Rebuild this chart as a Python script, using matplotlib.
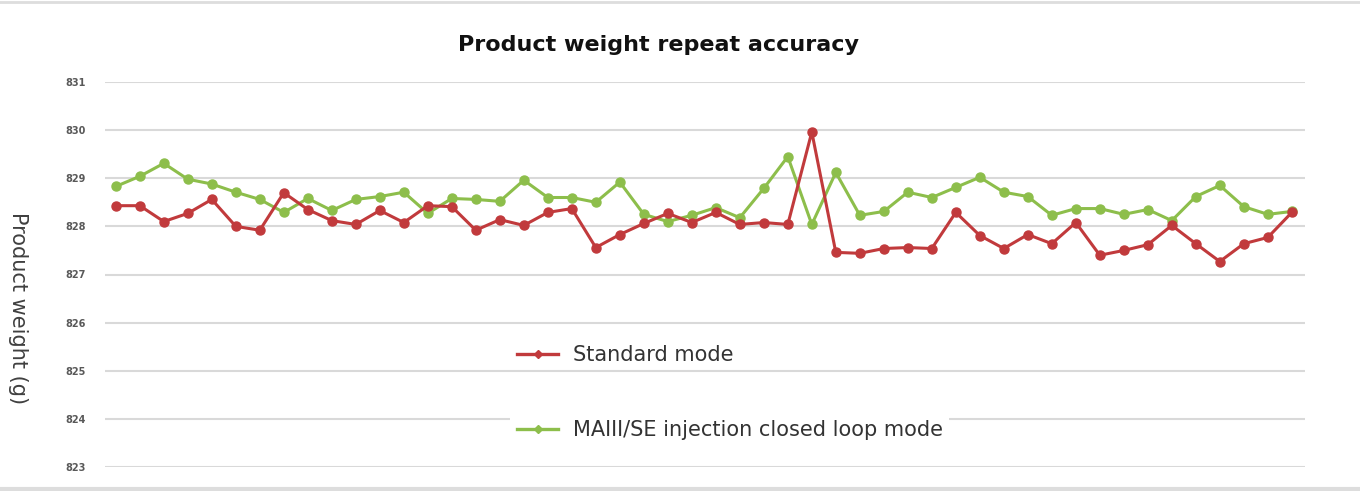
import matplotlib.pyplot as plt
from matplotlib.lines import Line2D

# sample index 1..50
samples = list(range(1, 51))

standard_mode = [
    828.43, 828.43, 828.10, 828.27, 828.56, 828.00, 827.92, 828.70, 828.35, 828.12,
    828.04, 828.33, 828.08, 828.43, 828.41, 827.92, 828.14, 828.02, 828.29, 828.37,
    827.56, 827.83, 828.06, 828.27, 828.08, 828.29, 828.04, 828.08, 828.04, 829.96,
    827.46, 827.44, 827.54, 827.56, 827.54, 828.29, 827.81, 827.54, 827.83, 827.64,
    828.08, 827.40, 827.50, 827.62, 828.02, 827.64, 827.27, 827.64, 827.77, 828.29,
]

closed_loop_mode = [
    828.83, 829.04, 829.31, 828.98, 828.88, 828.71, 828.56, 828.29, 828.58, 828.33,
    828.56, 828.62, 828.71, 828.27, 828.58, 828.56, 828.52, 828.96, 828.60, 828.60,
    828.50, 828.92, 828.25, 828.10, 828.23, 828.39, 828.18, 828.79, 829.45, 828.04,
    829.12, 828.23, 828.31, 828.71, 828.60, 828.81, 829.02, 828.71, 828.62, 828.23,
    828.37, 828.37, 828.25, 828.35, 828.12, 828.62, 828.85, 828.41, 828.25, 828.31,
]

y_ticks = [823, 824, 825, 826, 827, 828, 829, 830, 831]

RED = "#C13A3C"
GREEN = "#8DBE4B"

fig = plt.figure(figsize=(13.6, 4.91), dpi=100)
ax = fig.add_axes([105 / 1360, (491 - 467) / 491, 1200 / 1360, (467 - 82) / 491])

ax.plot(samples, standard_mode, color=RED, lw=2.2, marker="o", ms=6.5, zorder=3)
ax.plot(samples, closed_loop_mode, color=GREEN, lw=2.2, marker="o", ms=6.5, zorder=2)

ax.set_ylim(823, 831)
ax.set_yticks(y_ticks)
ax.set_xlim(0.55, 50.55)
ax.set_xticks([])
ax.grid(axis="y", color="#D9D9D9", lw=1.5)
ax.set_axisbelow(True)
for s in ax.spines.values():
    s.set_visible(False)
ax.tick_params(axis="y", length=0, pad=14, labelsize=7, labelcolor="#595959")
for lab in ax.get_yticklabels():
    lab.set_fontweight("bold")

fig.text(658 / 1360, 1 - 45 / 491, "Product weight repeat accuracy",
         ha="center", va="center", fontsize=16, fontweight="bold", color="#111111")
fig.text(18 / 1360, 1 - 308 / 491, "Product weight (g)", rotation=270,
         ha="center", va="center", fontsize=15, color="#404040")

h1 = Line2D([], [], color=RED, lw=2.4, marker="D", ms=4)
h2 = Line2D([], [], color=GREEN, lw=2.4, marker="D", ms=4)
leg_kw = dict(loc="center left", bbox_transform=fig.transFigure, fontsize=15,
              handlelength=2.0, handletextpad=0.7, borderpad=0.3)
leg1 = ax.legend([h1], ["Standard mode"], bbox_to_anchor=(500 / 1360, 1 - 355 / 491),
                 frameon=False, **leg_kw)
for t in leg1.get_texts():
    t.set_color("#333333")
ax.add_artist(leg1)
leg2 = ax.legend([h2], ["MAIII/SE injection closed loop mode"],
                 bbox_to_anchor=(500 / 1360, 1 - 430 / 491),
                 frameon=True, facecolor="white", edgecolor="none", framealpha=1,
                 fancybox=False, **leg_kw)
for t in leg2.get_texts():
    t.set_color("#333333")

# light lines at the top and bottom of the picture
fig.add_artist(Line2D([0, 1], [1 - 2 / 491, 1 - 2 / 491], transform=fig.transFigure,
                      color="#DDDDDD", lw=2))
fig.add_artist(Line2D([0, 1], [2 / 491, 2 / 491], transform=fig.transFigure,
                      color="#DDDDDD", lw=3))

fig.savefig("out.png", dpi=100)
